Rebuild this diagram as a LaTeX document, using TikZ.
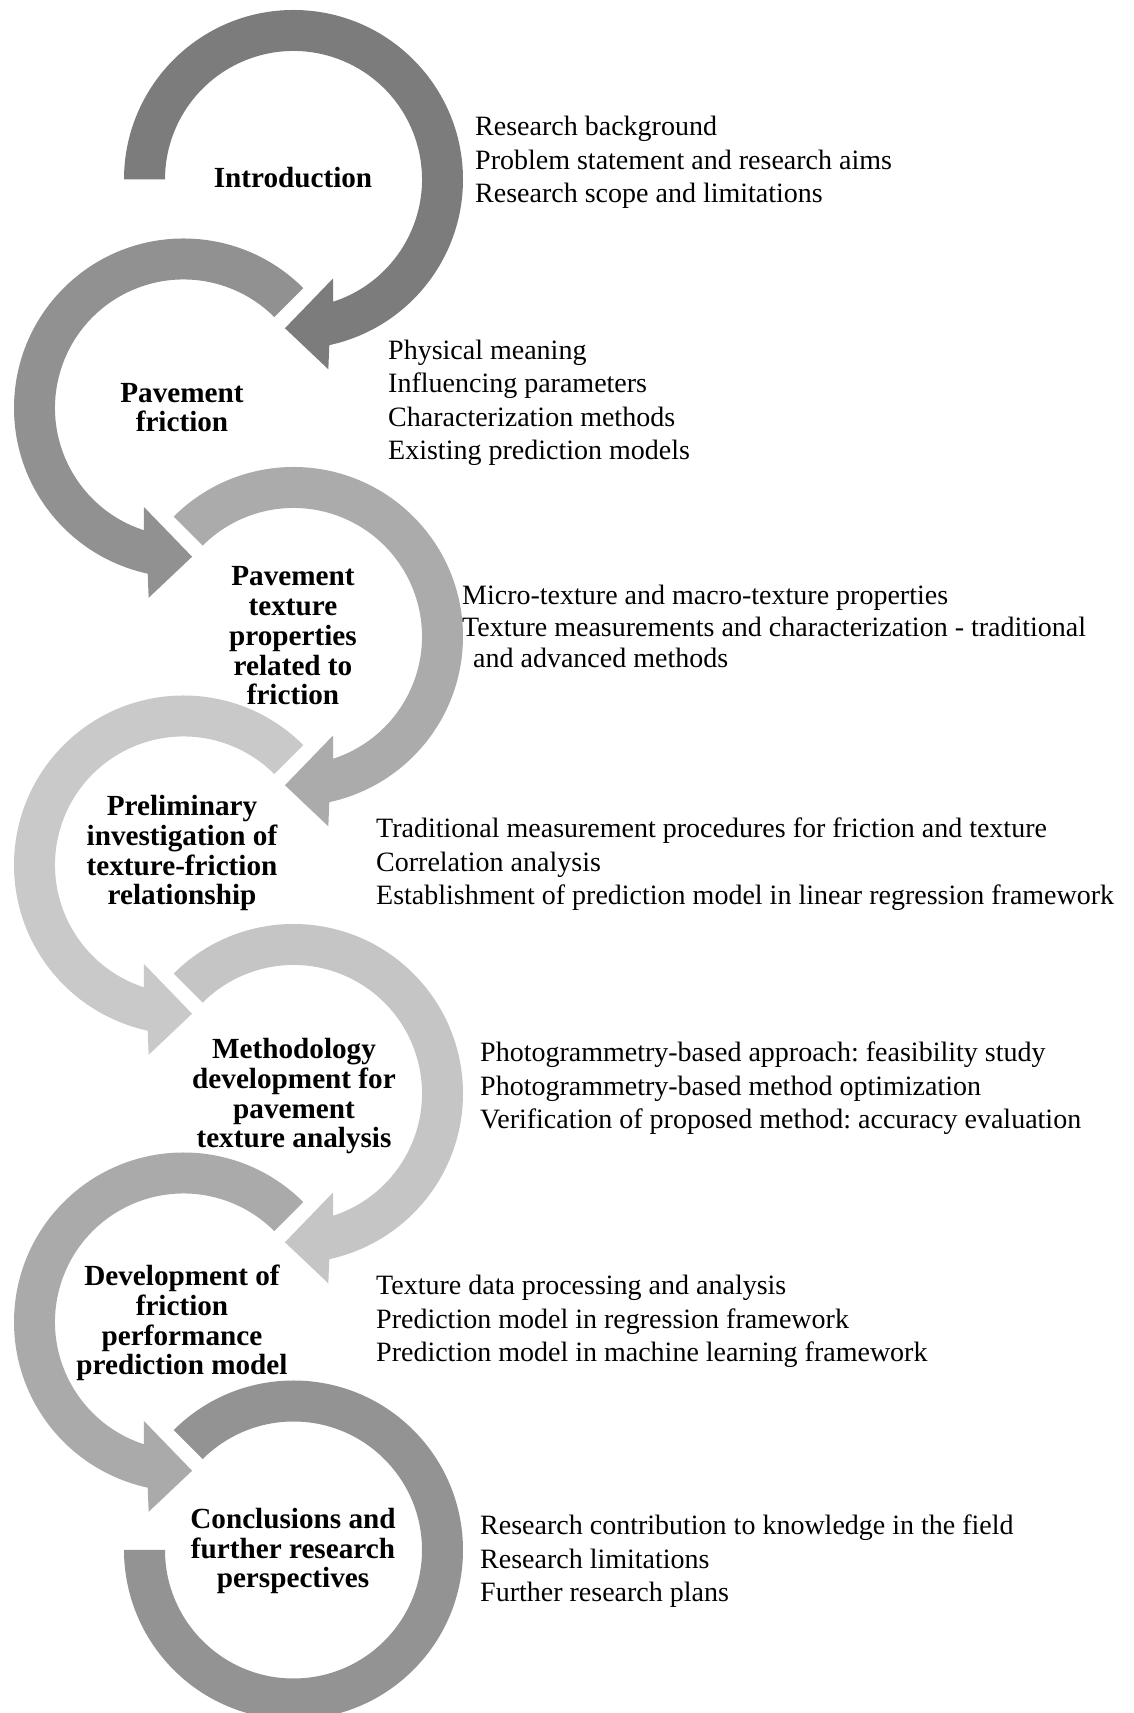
\documentclass[tikz,border=0pt]{standalone}
\usepackage{fontspec}
\setmainfont{Liberation Serif}
\frenchspacing
\definecolor{gA}{HTML}{7C7C7C}
\definecolor{gB}{HTML}{919191}
\definecolor{gC}{HTML}{ABABAB}
\definecolor{gD}{HTML}{C9C9C9}
\definecolor{gE}{HTML}{C5C5C5}
\definecolor{gF}{HTML}{AAAAAA}
\definecolor{gG}{HTML}{939393}
\tikzset{
  pics/cwarrow/.style={code={%
    \fill[pic actions] (#1:169.5) arc[start angle=#1,end angle=-77.8,radius=169.5]
      -- (-79.6:193) -- (-93.3:149) -- (-68.1:106.5) -- (-72:128.5)
      arc[start angle=-72,end angle=#1,radius=128.5] -- cycle;}},
  pics/ccwarrow/.style={code={%
    \fill[pic actions] (#1:169.5) arc[start angle=#1,end angle=257.8,radius=169.5]
      -- (259.6:193) -- (273.3:149) -- (248.1:106.5) -- (252:128.5)
      arc[start angle=252,end angle=#1,radius=128.5] -- cycle;}},
  stagelabel/.style={font=\bfseries\fontsize{29.2}{29.8}\selectfont, align=center, anchor=base, inner sep=0pt},
  itemlist/.style={font=\fontsize{28}{33.5}\selectfont, align=left, anchor=base west, inner sep=0pt},
}
\begin{document}
\begin{tikzpicture}[x=1pt,y=1pt]
\useasboundingbox (0,0) rectangle (1133,1713);
\coordinate (c1) at (293.5,1533.5);
\coordinate (c2) at (183.5,1305);
\coordinate (c3) at (293.5,1076.5);
\coordinate (c4) at (183.5,848);
\coordinate (c5) at (293.5,619.5);
\coordinate (c6) at (183.5,391);
\coordinate (c7) at (293.5,163);

\pic[fill=gA] at (c1) {cwarrow=180};
\pic[fill=gB] at (c2) {ccwarrow=45};
\pic[fill=gC] at (c3) {cwarrow=135};
\pic[fill=gD] at (c4) {ccwarrow=45};
\pic[fill=gE] at (c5) {cwarrow=135};
\pic[fill=gF] at (c6) {ccwarrow=45};
\fill[gG, shift={(c7)}] (135:169.5) arc[start angle=135,end angle=-180,radius=169.5]
  -- (180:128.5) arc[start angle=-180,end angle=135,radius=128.5] -- cycle;

% anchor=base of a multi-line node is the baseline of its last line
\node[stagelabel] (l1) at (293,1525) {Introduction};
\node[stagelabel] (l2) at (182,1281) {Pavement\\friction};
\node[stagelabel] (l3) at (293,1008) {Pavement\\texture\\properties\\related to\\friction};
\node[stagelabel] (l4) at (182,808) {Preliminary\\investigation of\\texture-friction\\relationship};
\node[stagelabel] (l5) at (294,565) {Methodology\\development for\\pavement\\texture analysis};
\node[stagelabel] (l6) at (182,338) {Development of\\friction\\performance\\prediction model};
\node[stagelabel] (l7) at (293,125) {Conclusions and\\further research\\perspectives};

\node[itemlist] (t1) at (475,1510) {Research background\\Problem statement and research aims\\Research scope and limitations};
\node[itemlist] (t2) at (388,1253) {Physical meaning\\Influencing parameters\\Characterization methods\\Existing prediction models};
\node[itemlist, font=\fontsize{28}{31.5}\selectfont] (t3) at (462,1045) {Micro-texture and macro-texture properties\\Texture measurements and characterization - traditional\\\hspace*{11pt}and advanced methods};
\node[itemlist] (t4) at (376,808) {Traditional measurement procedures for friction and texture\\Correlation analysis\\Establishment of prediction model in linear regression framework};
\node[itemlist] (t5) at (480,584) {Photogrammetry-based approach: feasibility study\\Photogrammetry-based method optimization\\Verification of proposed method: accuracy evaluation};
\node[itemlist] (t6) at (376,351) {Texture data processing and analysis\\Prediction model in regression framework\\Prediction model in machine learning framework};
\node[itemlist] (t7) at (480,111) {Research contribution to knowledge in the field\\Research limitations\\Further research plans};
\end{tikzpicture}
\end{document}
